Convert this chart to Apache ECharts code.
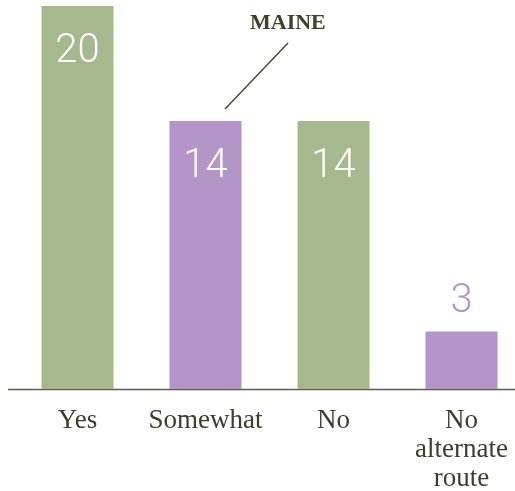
<!DOCTYPE html>
<html>
<head>
<meta charset="utf-8">
<script src="https://cdn.jsdelivr.net/npm/echarts@6/dist/echarts.min.js"></script>
<style>
html,body{margin:0;padding:0;background:#fff;}
#chart{width:515px;height:491px;}
</style>
</head>
<body>
<div id="chart"></div>
<script>
var categories = ['Yes', 'Somewhat', 'No', 'No\nalternate\nroute'];
var values = [20, 14, 14, 3];
var outsideLabel = [false, false, false, true];
var palette = ['#a6b98e', '#b396c7', '#a6b98e', '#b396c7'];

var chart = echarts.init(document.getElementById('chart'));

var seriesData = values.map(function (v, i) {
  var item = { value: v, itemStyle: { color: palette[i] } };
  if (outsideLabel[i]) {
    item.label = { position: 'top', distance: 10, color: palette[i] };
  }
  return item;
});

chart.setOption({
  animation: false,
  grid: { left: 13.5, width: 512, top: 6, bottom: 102, containLabel: false, outerBoundsMode: 'none' },
  xAxis: {
    type: 'category',
    data: categories,
    axisLine: { show: false },
    axisTick: { show: false },
    axisLabel: {
      interval: 0,
      margin: 17,
      fontFamily: 'Liberation Serif',
      fontSize: 27,
      lineHeight: 29,
      color: '#3d3d2d'
    }
  },
  yAxis: {
    type: 'value',
    min: 0,
    max: 20,
    show: false,
    splitLine: { show: false }
  },
  series: [{
    type: 'bar',
    barWidth: 72,
    data: seriesData,
    label: {
      show: true,
      position: 'insideTop',
      distance: 26,
      color: '#ffffff',
      fontFamily: 'Roboto',
      fontWeight: 300,
      fontSize: 40,
      lineHeight: 40
    }
  }],
  graphic: [
    {
      type: 'line',
      shape: { x1: 8, y1: 389.5, x2: 515, y2: 389.5 },
      style: { stroke: '#5d5d48', lineWidth: 1.5 }
    },
    {
      type: 'text',
      left: 250,
      top: 12,
      style: {
        text: 'MAINE',
        fontFamily: 'Liberation Serif',
        fontWeight: 'bold',
        fontSize: 22,
        fill: '#3f3f2a'
      }
    },
    {
      type: 'line',
      shape: { x1: 288, y1: 43, x2: 225, y2: 109 },
      style: { stroke: '#4a4a35', lineWidth: 1.5 }
    }
  ]
});
</script>
</body>
</html>
